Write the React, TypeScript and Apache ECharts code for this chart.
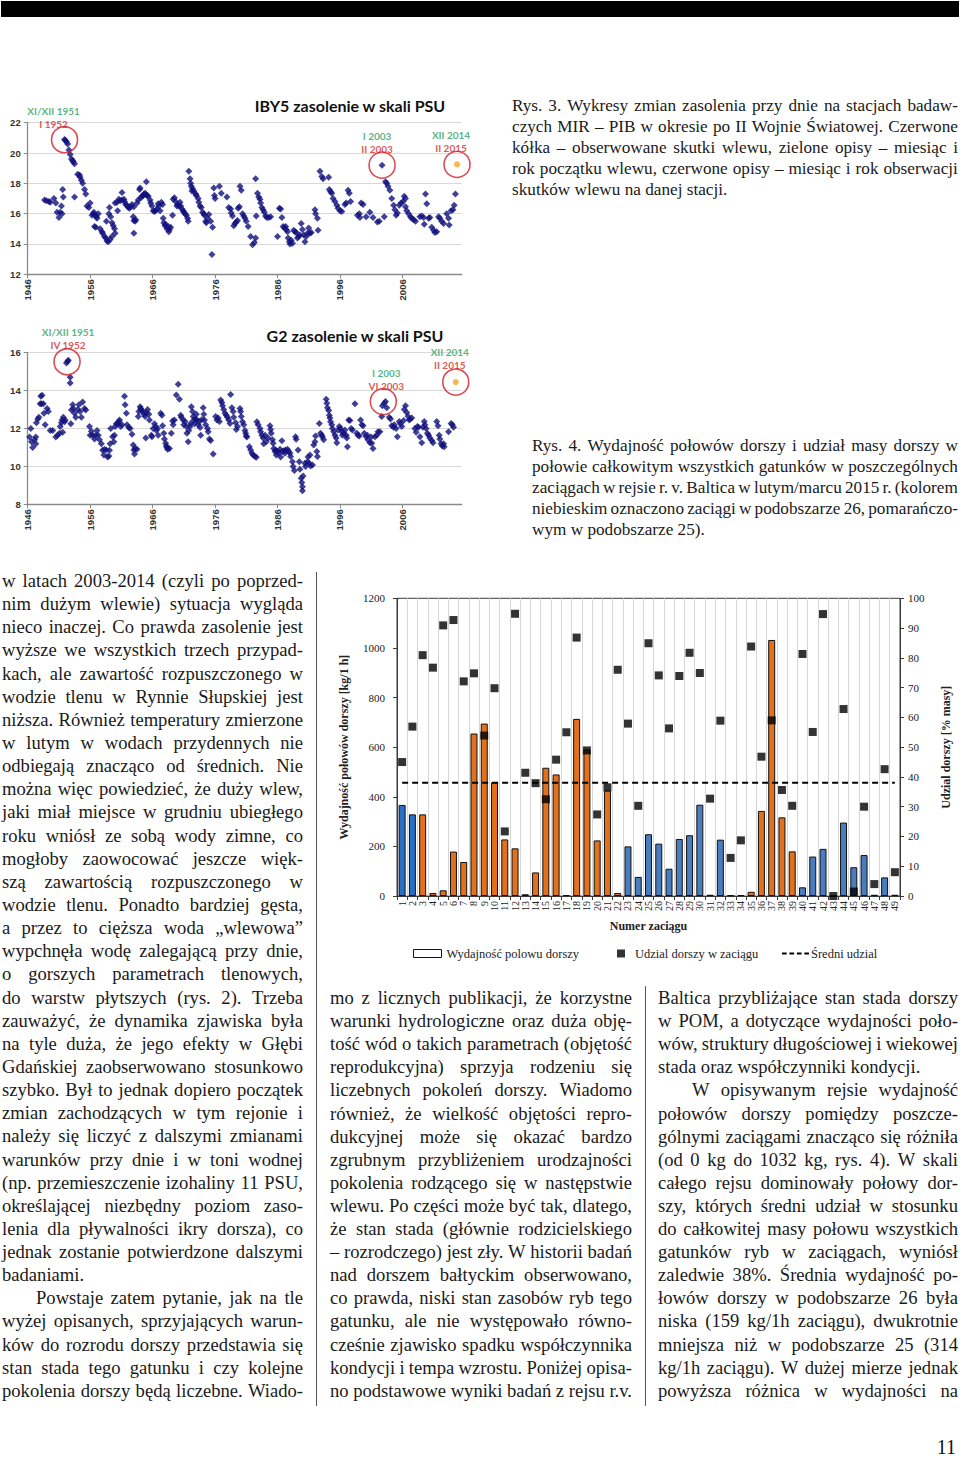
import React, { useEffect, useRef } from "react";
import * as echarts from "echarts";

// ---------------- DATA ----------------
const YEAR0 = 1946;
const YEAR_TICK_LABELS = ["1946", "1956", "1966", "1976", "1986", "1996", "2006"];

// IBY5 near-bottom salinity [year, PSU]
const IBY5_POINTS: [number, number][] = [
  [1948.7,16.9],[1949.0,16.85],[1949.4,16.8],[1949.6,16.75],[1950.2,17.0],[1950.5,16.7],[1950.7,16.1],[1951.0,15.75],[1951.2,16.1],[1951.4,16.5],[1951.5,16.0],[1951.6,17.6],[1951.7,17.1],
  [1951.9,20.9],[1952.0,20.85],[1952.2,20.75],[1952.4,20.6],[1952.6,20.2],[1952.8,19.9],[1953.0,19.6],[1953.2,19.5],[1953.3,19.4],[1953.5,19.3],[1953.5,17.1],
  [1954.0,18.6],[1954.3,18.55],[1954.4,18.4],[1954.6,18.2],[1954.8,18.0],[1955.1,17.6],[1955.3,17.3],[1955.5,16.5],[1955.8,16.4],[1956.0,16.7],[1956.3,15.9],[1956.5,16.0],[1956.6,16.1],[1956.8,15.9],[1957.0,15.8],[1957.1,15.7],[1957.3,16.0],[1956.9,15.1],[1956.7,15.15],
  [1957.6,15.0],[1957.9,14.8],[1958.0,14.7],[1958.3,14.5],[1958.5,14.4],[1958.7,14.2],[1958.9,14.15],[1959.2,14.3],[1959.5,14.5],[1958.6,15.5],[1959.0,16.0],[1959.1,16.4],[1959.3,15.8],[1959.5,15.4],[1959.7,15.2],[1959.9,15.0],[1960.0,14.7],
  [1960.0,16.7],[1960.3,16.75],[1960.6,16.95],[1960.8,16.85],[1961.1,16.9],[1961.4,16.95],[1961.5,16.8],[1961.7,16.6],[1961.9,16.55],[1962.1,16.4],[1962.3,16.35],[1962.5,16.45],[1962.7,16.6],[1963.0,16.45],[1961.1,17.4],[1960.4,16.2],
  [1962.9,15.8],[1963.0,15.55],[1963.2,15.5],[1963.3,15.6],[1963.0,14.7],
  [1963.5,16.7],[1963.7,16.9],[1963.9,17.6],[1964.0,17.7],[1964.1,17.05],[1964.3,17.15],[1964.5,17.2],[1964.6,17.3],[1964.8,17.35],[1965.0,17.25],[1965.1,17.2],[1965.0,18.1],[1965.3,17.15],[1965.6,16.9],[1965.7,16.7],[1965.9,16.5],[1966.1,16.2],[1966.3,16.15],[1966.5,16.2],[1966.7,16.3],[1966.9,16.65],[1967.0,16.5],[1967.2,16.2],[1967.4,16.75],[1967.6,16.6],[1967.7,15.7],[1967.8,15.4],[1968.0,15.2],[1968.1,15.3],[1968.3,15.0],[1968.5,15.15],[1968.6,14.8],[1968.7,14.95],[1968.9,15.1],[1969.2,15.9],[1969.3,16.95],[1969.5,17.05],[1969.7,16.8],[1969.9,16.5],[1970.0,16.6],[1970.2,16.5],[1970.4,16.75],[1970.5,16.5],[1970.7,16.3],[1970.9,16.2],[1971.0,16.1],[1971.2,16.0],[1971.4,15.9],[1971.6,15.7],[1971.7,15.5],
  [1971.8,18.8],[1972.0,18.3],[1972.1,18.0],[1972.2,17.8],[1972.4,17.65],[1972.3,17.5],[1972.6,17.5],[1972.9,17.3],[1973.0,17.2],[1973.3,17.0],[1973.4,16.75],[1973.6,16.5],[1973.8,16.4],[1974.0,16.1],[1974.2,16.0],[1974.3,15.9],[1974.5,15.5],[1974.6,15.4],[1974.8,15.7],[1975.0,15.95],[1975.3,15.5],
  [1975.6,15.1],[1975.5,13.3],[1975.8,17.7],[1975.9,17.2],[1976.0,17.0],[1976.7,17.8],[1977.0,17.35],
  [1977.9,17.1],[1978.2,16.4],[1978.5,16.3],[1978.6,16.05],[1978.8,15.85],[1979.0,15.2],[1979.2,15.35],[1979.4,15.45],[1979.6,15.55],[1979.7,16.35],[1979.9,16.45],[1980.0,17.8],[1980.2,17.55],[1980.4,16.0],[1980.6,15.85],[1980.8,15.7],[1981.0,15.5],[1981.3,15.15],
  [1981.7,14.5],[1982.0,13.95],[1982.3,14.1],[1982.5,14.4],[1982.5,18.3],[1982.6,15.85],[1982.8,17.35],[1983.0,17.1],[1983.2,16.95],[1983.3,16.7],[1983.5,16.4],[1983.7,16.25],[1983.9,16.1],[1984.1,15.85],[1984.3,15.75],[1984.6,15.75],[1984.9,15.8],
  [1986.0,14.5],[1986.3,16.35],[1986.5,16.3],[1986.7,15.75],[1986.9,15.15],[1987.1,15.05],[1987.3,15.15],[1987.4,14.95],[1987.6,14.8],[1987.7,14.4],[1987.9,14.15],[1988.0,14.0],[1988.2,14.25],[1988.4,14.05],[1988.6,14.9],[1988.8,14.8],[1989.0,14.75],[1989.2,14.4],[1989.4,14.5],[1989.6,14.6],[1989.8,15.35],[1990.0,14.95],[1990.2,14.6],[1990.4,14.15],[1990.6,14.5],[1990.8,14.7],[1991.0,15.05],[1991.2,14.7],[1991.4,14.75],
  [1992.0,16.25],[1992.1,16.0],[1992.4,15.7],[1992.5,14.9],
  [1992.8,18.8],[1993.1,18.45],[1993.3,18.3],[1994.2,18.4],[1994.3,17.6],[1994.5,17.45],[1994.7,17.35],[1994.9,17.0],[1995.2,16.8],[1995.5,16.55],[1995.7,16.35],[1996.0,16.2],[1996.3,16.15],
  [1996.8,16.6],[1997.0,16.7],[1997.3,17.55],[1997.5,17.35],[1997.7,16.8],
  [1998.8,15.9],[1999.1,16.0],[1999.2,15.75],[1999.4,16.7],[1999.7,16.6],[2000.2,15.8],[2000.8,16.1],[2001.3,15.75],[2002.0,15.45],[2002.3,15.5],[2003.1,15.8],
  [2002.75,19.2],
  [2003.3,18.1],[2003.5,18.0],[2003.7,17.8],[2004.0,17.55],[2004.3,17.0],[2004.6,16.55],[2004.8,16.25],[2005.0,15.9],[2005.2,16.05],[2005.5,16.55],[2005.8,16.7],[2006.1,16.8],[2006.3,17.15],[2006.5,17.0],[2006.5,16.45],[2006.7,16.2],[2007.0,16.0],[2007.3,15.8],[2007.5,15.7],[2007.8,15.6],[2008.1,15.5],[2008.8,15.8],[2009.1,15.85],[2009.4,15.75],[2009.5,15.3],[2009.7,17.3],[2009.9,16.65],[2010.2,15.7],[2010.4,15.75],[2010.7,15.1],[2011.0,14.9],[2011.2,14.75],[2011.5,14.8],[2011.8,15.8],[2012.0,15.7],[2012.3,15.5],[2012.6,15.35],[2013.1,16.0],[2013.4,15.7],[2013.5,15.25],[2013.8,16.2],[2014.1,16.25],[2014.3,16.55],[2014.5,17.3],
];
const IBY5_LATEST: [number, number][] = [[2014.75, 19.25]];
const IBY5_INFLOWS = [
  { at: [1951.9, 20.88], start: "XI/XII 1951", seen: "I 1952" },
  { at: [2002.75, 19.2], start: "I 2003", seen: "II 2003" },
  { at: [2014.75, 19.25], start: "XII 2014", seen: "II 2015" },
];

// G2 near-bottom salinity [year, PSU]
const G2_POINTS: [number, number][] = [
  [1946.3,11.55],[1946.5,12.0],[1946.6,11.3],[1946.8,11.0],[1947.1,11.4],[1947.3,11.55],[1947.3,11.2],
  [1947.4,12.3],[1947.6,12.5],[1947.8,12.6],[1948.0,13.3],[1948.1,13.7],[1948.3,13.75],[1948.2,13.3],[1948.5,13.3],[1948.6,12.8],[1948.8,12.2],[1949.1,13.05],[1949.3,12.9],
  [1949.6,11.9],[1950.0,11.9],
  [1950.5,11.55],[1950.8,11.65],[1951.1,11.75],[1951.2,12.1],[1951.4,12.3],[1951.5,12.45],[1951.7,12.6],[1951.6,11.8],[1951.9,12.35],[1952.0,12.45],
  [1952.2,15.45],[1952.4,15.55],[1952.5,15.6],
  [1952.8,14.7],[1952.8,14.4],[1952.9,12.25],[1953.0,12.97],[1953.2,13.25],[1953.3,13.05],[1953.5,12.8],[1953.7,12.6],[1954.0,13.0],[1954.2,13.25],[1954.4,12.9],[1954.6,12.6],[1954.8,13.4],[1955.1,13.05],[1955.3,12.97],
  [1955.9,12.1],[1956.0,11.65],[1956.2,11.85],[1956.4,11.65],[1956.7,11.45],[1956.9,11.65],[1957.1,11.9],[1957.3,11.65],[1957.5,11.4],
  [1957.8,11.2],[1958.0,10.85],[1958.2,10.6],[1958.3,10.9],[1958.6,10.87],[1958.8,10.5],[1959.0,10.55],[1959.1,10.85],[1959.2,11.2],[1959.3,12.0],[1959.6,11.57],[1959.8,11.3],[1959.9,11.65],[1960.0,12.1],[1960.2,12.25],[1960.4,12.27],[1960.6,12.35],[1960.7,12.45],[1960.9,12.1],[1961.1,12.2],
  [1961.5,13.7],[1961.6,13.25],[1961.8,12.8],[1961.9,12.2],[1962.2,12.05],[1962.4,12.0],[1962.7,11.7],[1962.9,11.13],[1963.0,10.87],[1963.1,10.66],[1963.2,10.95],[1963.5,10.9],
  [1963.7,12.63],[1963.8,12.9],[1964.0,13.15],[1964.1,13.05],[1964.2,12.97],[1964.4,12.9],[1964.6,12.75],[1964.8,12.63],[1964.9,11.5],[1965.0,12.85],[1965.2,13.0],[1965.4,12.75],[1965.5,12.45],[1965.8,11.65],[1965.9,11.57],[1966.1,12.0],[1966.3,12.25],[1966.5,12.1],[1966.6,11.9],[1966.8,12.0],[1966.9,11.65],
  [1967.3,12.8],[1967.5,12.7],[1967.6,12.15],[1967.8,11.75],[1967.9,11.45],[1968.1,11.22],[1968.2,11.07],[1968.3,11.0],[1968.4,10.9],[1968.7,10.95],[1969.0,11.75],[1969.2,12.4],[1969.3,12.2],[1969.5,12.45],
  [1969.8,13.77],[1970.1,14.33],[1970.3,13.55],[1970.5,12.7],[1970.6,12.6],[1970.9,12.45],[1971.0,12.2],[1971.2,12.37],[1971.4,12.1],[1971.5,11.75],[1971.7,11.3],[1971.8,11.9],[1972.0,12.1],[1972.1,12.27],[1972.2,13.15],[1972.4,12.9],[1972.5,12.63],[1972.6,12.45],[1972.7,12.25],[1972.9,12.5],[1973.0,12.75],[1973.1,12.45],[1973.3,12.2],[1973.5,12.37],[1973.6,12.05],[1973.7,11.65],[1973.9,12.47],[1974.1,13.1],[1974.2,12.75],[1974.3,12.45],[1974.5,12.2],[1974.8,12.0],[1974.9,11.83],[1975.1,11.45],[1975.3,11.37],[1975.7,10.65],
  [1976.1,12.63],[1976.3,12.45],[1976.5,12.55],[1976.7,12.37],[1976.9,13.5],[1977.1,13.37],[1977.2,13.2],[1977.4,13.0],[1977.6,12.8],[1977.8,12.7],[1978.0,12.6],[1978.2,12.45],[1978.4,12.27],[1978.5,13.8],[1978.7,13.1],[1978.9,12.9],[1979.0,12.6],[1979.3,12.3],[1979.4,11.95],[1979.6,12.1],
  [1980.0,13.05],[1980.1,12.9],[1980.2,12.63],[1980.4,12.35],[1980.6,12.2],[1980.8,11.9],[1980.9,11.75],[1981.0,11.6],[1981.1,11.55],
  [1981.5,11.04],[1981.7,10.87],[1981.9,10.69],[1982.1,10.6],[1982.4,10.52],[1982.6,10.48],
  [1982.7,12.35],[1982.9,12.2],[1983.2,12.0],[1983.3,11.83],[1983.5,11.65],[1983.7,11.5],[1983.8,11.2],[1984.0,11.65],[1984.2,11.3],[1984.5,11.5],[1984.8,12.15],[1984.9,11.95],[1985.0,11.75],[1985.2,11.4],[1985.3,11.22],[1985.4,10.95],
  [1985.6,10.78],[1985.7,10.87],[1985.8,10.6],[1986.0,10.78],[1986.2,10.69],[1986.4,10.9],[1986.5,10.5],[1986.7,11.35],[1986.8,10.78],[1987.0,10.83],[1987.2,10.7],[1987.3,10.87],[1987.6,10.9],[1987.8,10.78],[1988.0,10.7],[1988.1,10.52],[1988.4,10.25],[1988.5,10.0],[1988.7,9.78],[1988.9,11.57],[1989.0,11.43],[1989.3,10.87],[1989.5,10.25],[1989.6,9.85],[1989.8,9.37],[1989.9,9.15],[1990.0,8.93],[1990.0,8.72],[1990.1,9.5],[1990.4,10.16],[1990.5,10.0],[1990.8,10.25],[1990.9,10.5],[1991.1,10.16],[1991.2,10.6],[1991.3,10.02],[1991.6,10.08],[1991.8,11.13],[1992.0,11.3],[1992.1,11.6],[1992.3,10.78],[1992.4,10.52],
  [1992.7,12.27],[1992.9,11.75],[1993.1,11.65],[1993.2,11.55],[1993.4,11.4],
  [1993.8,13.55],[1993.9,13.33],[1994.0,13.1],[1994.2,12.95],[1994.3,12.7],[1994.4,12.55],[1994.5,12.35],[1994.7,12.2],[1994.8,12.0],[1995.0,11.83],[1995.2,11.65],[1995.4,11.5],[1995.5,11.25],[1995.7,11.92],[1995.9,12.1],[1996.1,12.0],[1996.3,11.83],[1996.4,11.65],[1996.6,11.75],[1996.8,11.92],[1997.0,11.65],[1997.1,11.5],[1997.2,11.04],[1997.4,12.45],[1997.6,12.42],[1997.8,12.0],[1998.0,11.92],
  [1998.4,13.3],[1998.7,11.75],[1998.9,11.65],[1999.1,11.6],[1999.3,12.45],[1999.5,12.2],[1999.7,12.15],[1999.9,11.75],[2000.2,11.57],[2000.4,11.65],[2000.5,11.4],[2000.8,11.25],[2001.0,11.55],[2001.1,11.22],[2001.3,10.95],[2001.6,11.57],[2001.9,11.65],[2002.1,11.83],[2002.4,11.83],
  [2002.7,12.63],[2002.8,13.2],[2003.1,13.33],[2003.3,13.42],[2003.5,13.1],
  [2003.9,12.6],[2004.1,12.5],[2004.3,12.15],[2004.6,12.07],[2004.7,12.2],[2005.0,12.0],[2005.2,11.57],[2005.5,12.37],[2005.7,12.25],[2005.9,12.1],[2006.2,12.42],[2006.3,13.0],[2006.5,13.2],[2006.7,12.85],[2006.9,12.65],[2007.1,12.45],[2007.2,12.5],[2007.5,12.55],
  [2008.0,12.0],[2008.2,11.8],[2008.4,12.1],[2008.6,12.07],[2008.8,11.57],[2009.1,11.25],[2009.3,12.07],[2009.5,12.37],[2009.6,12.2],[2009.8,12.0],[2010.0,11.75],[2010.2,11.65],[2010.4,11.5],[2010.7,11.37],[2010.9,11.25],
  [2011.5,12.37],[2011.7,12.15],[2011.9,11.65],[2012.0,11.45],[2012.2,11.2],[2012.4,11.07],[2012.6,11.2],[2012.7,11.04],
  [2013.4,11.83],[2013.8,12.27],[2014.0,12.2],[2014.2,12.07],
];
const G2_LATEST: [number, number][] = [[2014.55, 14.45]];
const G2_INFLOWS = [
  { at: [1952.3, 15.52], start: "XI/XII 1951", seen: "IV 1952" },
  { at: [2002.95, 13.42], start: "I 2003", seen: "VI 2003" },
  { at: [2014.55, 14.45], start: "XII 2014", seen: "II 2015" },
];

// Rys. 4: hauls of r.v. Baltica, Feb/Mar 2015
const HAULS = Array.from({ length: 49 }, (_, i) => String(i + 1));
const CATCH_KG_H = [367,329,329,12,23,179,137,655,695,458,228,192,7,95,517,490,4,714,590,224,425,12,200,77,249,211,110,230,245,368,5,227,3,4,17,343,1032,317,180,35,159,190,0,296,116,165,5,75,5];
const COD_SHARE_PCT = [45.0,56.9,80.9,76.7,90.9,92.7,72.1,74.8,53.9,69.8,21.7,94.8,41.4,37.9,32.5,45.8,55.0,86.8,48.9,27.4,36.5,76.0,57.9,30.3,84.9,74.1,56.3,73.9,81.7,74.9,32.7,58.9,12.8,18.7,83.8,46.8,59.0,35.6,30.3,81.3,55.1,94.7,0,62.8,1.5,30.0,4.0,42.6,8.0];
const SUBAREA = [26,26,25,25,25,25,25,25,25,25,25,25,25,25,25,25,25,25,25,25,25,25,26,26,26,26,26,26,26,26,26,26,26,26,25,25,25,25,25,26,26,26,26,26,26,26,26,26,26];
const MEAN_SHARE_PCT = 38;

// ---------------- TEXT ----------------
const CAPTION3 = [
  "Rys. 3. Wykresy zmian zasolenia przy dnie na stacjach badaw-",
  "czych MIR – PIB w okresie po II Wojnie Światowej. Czerwone",
  "kółka – obserwowane skutki wlewu, zielone opisy – miesiąc i",
  "rok początku wlewu, czerwone opisy – miesiąc i rok obserwacji",
  "skutków wlewu na danej stacji.",
];
const CAPTION4 = [
  "Rys. 4. Wydajność połowów dorszy i udział masy dorszy w",
  "połowie całkowitym wszystkich gatunków w poszczególnych",
  "zaciągach w rejsie r. v. Baltica w lutym/marcu 2015 r. (kolorem",
  "niebieskim oznaczono zaciągi w podobszarze 26, pomarańczo-",
  "wym w podobszarze 25).",
];
const COL_LEFT = [
  "w latach 2003-2014 (czyli po poprzed-",
  "nim dużym wlewie) sytuacja wygląda",
  "nieco inaczej. Co prawda zasolenie jest",
  "wyższe we wszystkich trzech przypad-",
  "kach, ale zawartość rozpuszczonego w",
  "wodzie tlenu w Rynnie Słupskiej jest",
  "niższa. Również temperatury zmierzone",
  "w lutym w wodach przydennych nie",
  "odbiegają znacząco od średnich. Nie",
  "można więc powiedzieć, że duży wlew,",
  "jaki miał miejsce w grudniu ubiegłego",
  "roku wniósł ze sobą wody zimne, co",
  "mogłoby zaowocować jeszcze więk-",
  "szą zawartością rozpuszczonego w",
  "wodzie tlenu. Ponadto bardziej gęsta,",
  "a przez to cięższa woda „wlewowa”",
  "wypchnęła wodę zalegającą przy dnie,",
  "o gorszych parametrach tlenowych,",
  "do warstw płytszych (rys. 2). Trzeba",
  "zauważyć, że dynamika zjawiska była",
  "na tyle duża, że jego efekty w Głębi",
  "Gdańskiej zaobserwowano stosunkowo",
  "szybko. Był to jednak dopiero początek",
  "zmian zachodzących w tym rejonie i",
  "należy się liczyć z dalszymi zmianami",
  "warunków przy dnie i w toni wodnej",
  "(np. przemieszczenie izohaliny 11 PSU,",
  "określającej niezbędny poziom zaso-",
  "lenia dla pływalności ikry dorsza), co",
  "jednak zostanie potwierdzone dalszymi",
  "badaniami.",
  "Powstaje zatem pytanie, jak na tle",
  "wyżej opisanych, sprzyjających warun-",
  "ków do rozrodu dorszy przedstawia się",
  "stan stada tego gatunku i czy kolejne",
  "pokolenia dorszy będą liczebne. Wiado-",
];
const COL_MID = [
  "mo z licznych publikacji, że korzystne",
  "warunki hydrologiczne oraz duża obję-",
  "tość wód o takich parametrach (objętość",
  "reprodukcyjna) sprzyja rodzeniu się",
  "liczebnych pokoleń dorszy. Wiadomo",
  "również, że wielkość objętości repro-",
  "dukcyjnej może się okazać bardzo",
  "zgrubnym przybliżeniem urodzajności",
  "pokolenia rodzącego się w następstwie",
  "wlewu. Po części może być tak, dlatego,",
  "że stan stada (głównie rodzicielskiego",
  "– rozrodczego) jest zły. W historii badań",
  "nad dorszem bałtyckim obserwowano,",
  "co prawda, niski stan zasobów ryb tego",
  "gatunku, ale nie występowało równo-",
  "cześnie zjawisko spadku współczynnika",
  "kondycji i tempa wzrostu. Poniżej opisa-",
  "no podstawowe wyniki badań z rejsu r.v.",
];
const COL_RIGHT = [
  "Baltica przybliżające stan stada dorszy",
  "w POM, a dotyczące wydajności poło-",
  "wów, struktury długościowej i wiekowej",
  "stada oraz współczynniki kondycji.",
  "W opisywanym rejsie wydajność",
  "połowów dorszy pomiędzy poszcze-",
  "gólnymi zaciągami znacząco się różniła",
  "(od 0 kg do 1032 kg, rys. 4). W skali",
  "całego rejsu dominowały połowy dor-",
  "szy, których średni udział w stosunku",
  "do całkowitej masy połowu wszystkich",
  "gatunków ryb w zaciągach, wyniósł",
  "zaledwie 38%. Średnia wydajność po-",
  "łowów dorszy w podobszarze 26 była",
  "niska (159 kg/1h zaciągu), dwukrotnie",
  "mniejsza niż w podobszarze 25 (314",
  "kg/1h zaciągu). W dużej mierze jednak",
  "powyższa różnica w wydajności na",
];
const PAGE_NUMBER = "11";

// ---------------- OPTIONS ----------------
const SANS = "Liberation Sans";
const CAL = "Lato";
const SERIF = "Liberation Serif";

function salinityOption(
  title: string,
  titleX: number,
  points: [number, number][],
  latest: [number, number][],
  inflows: { at: number[]; start: string; seen: string }[],
  yMin: number,
  yMax: number,
  labelOffsets: number[][]
) {
  const axisColor = "#8a8a8a";
  return {
    animation: false,
    grid: { left: 27.7, right: 38.3, top: 32.7, bottom: 35.7 },
    xAxis: {
      type: "value",
      min: 0,
      max: 69.5,
      interval: 10,
      axisLine: { show: true, lineStyle: { color: axisColor, width: 1.3 } },
      axisTick: { show: true, length: 4, lineStyle: { color: axisColor } },
      splitLine: { show: false },
      axisLabel: {
        rotate: 90,
        margin: 5,
        showMaxLabel: false,
        formatter: (v: number) => YEAR_TICK_LABELS[Math.round(v / 10)] ?? "",
        fontFamily: SANS,
        fontWeight: "bold",
        fontSize: 9.5,
        color: "#333",
      },
    },
    yAxis: {
      type: "value",
      min: yMin,
      max: yMax,
      interval: 2,
      axisLine: { show: true, lineStyle: { color: axisColor, width: 1.3 } },
      axisTick: { show: true, length: 4, lineStyle: { color: axisColor } },
      splitLine: { show: true, lineStyle: { color: "#d9d9d9", width: 1 } },
      axisLabel: { margin: 7, fontFamily: SANS, fontWeight: "bold", fontSize: 9.5, color: "#333" },
    },
    graphic: [
      {
        type: "text",
        x: titleX,
        y: 15,
        style: {
          text: title,
          font: `bold 16px ${CAL}`,
          fill: "#111",
          textAlign: "center",
          textVerticalAlign: "middle",
        },
      },
    ],
    series: [
      {
        type: "scatter",
        symbol: "diamond",
        symbolSize: 7,
        itemStyle: { color: "#10107c" },
        data: points.map(([y, v]) => [y - YEAR0, v]),
      },
      {
        type: "scatter",
        symbol: "circle",
        symbolSize: 6,
        itemStyle: { color: "#f5a623" },
        data: latest.map(([y, v]) => [y - YEAR0, v]),
      },
      {
        type: "scatter",
        symbol: "circle",
        symbolSize: 26,
        z: 5,
        itemStyle: { color: "rgba(0,0,0,0)", borderColor: "#d11f2b", borderWidth: 1.6 },
        label: {
          show: true,
          position: "top",
          distance: 0,
          rich: {
            g: { color: "#2e9f5e", fontFamily: CAL, fontWeight: "bold", fontSize: 10, lineHeight: 13 },
            r: { color: "#d42a2a", fontFamily: CAL, fontWeight: "bold", fontSize: 10, lineHeight: 13 },
          },
        },
        data: inflows.map((f, i) => ({
          value: [f.at[0] - YEAR0, f.at[1]],
          label: { formatter: `{g|${f.start}}\n{r|${f.seen}}`, offset: labelOffsets[i] },
        })),
      },
    ],
  };
}

const DASH_ICON = "path://M0,0H5V2H0Z M8,0H13V2H8Z M16,0H21V2H16Z M24,0H29V2H24Z";

function catchOption() {
  const blue26 = "#4a7dbd";
  const orange25 = "#e2711d";
  const axis = "#3a3a3a";
  const txt = { fontFamily: SERIF, color: "#222" };
  return {
    animation: false,
    grid: { left: 61, right: 46, top: 13.3, bottom: 74, show: true, borderColor: axis, borderWidth: 1, backgroundColor: "transparent" },
    xAxis: {
      type: "category",
      data: HAULS,
      boundaryGap: true,
      axisLine: { show: true, lineStyle: { color: axis } },
      axisTick: { show: true, length: 4, interval: 0, lineStyle: { color: axis } },
      splitLine: { show: true, interval: 0, lineStyle: { color: "#d6d6d6", width: 1 } },
      axisLabel: { rotate: 90, interval: 0, margin: 5, fontSize: 10, ...txt },
      name: "Numer zaciągu",
      nameLocation: "middle",
      nameGap: 24,
      nameTextStyle: { fontSize: 12, fontWeight: "bold", ...txt },
    },
    yAxis: [
      {
        type: "value",
        min: 0,
        max: 1200,
        interval: 200,
        position: "left",
        splitLine: { show: false },
        axisLine: { show: true, lineStyle: { color: axis } },
        axisTick: { show: true, length: 4, lineStyle: { color: axis } },
        axisLabel: { margin: 12, fontSize: 11, formatter: (v: number) => String(v), ...txt },
        name: "Wydajność połowów dorszy [kg/1 h]",
        nameLocation: "middle",
        nameRotate: 90,
        nameGap: 47,
        nameTextStyle: { fontSize: 12, fontWeight: "bold", ...txt },
      },
      {
        type: "value",
        min: 0,
        max: 100,
        interval: 10,
        position: "right",
        splitLine: { show: false },
        axisLine: { show: true, lineStyle: { color: axis } },
        axisTick: { show: true, length: 4, lineStyle: { color: axis } },
        axisLabel: { margin: 8, fontSize: 11, formatter: (v: number) => String(v), ...txt },
        name: "Udzial dorszy [% masy]",
        nameLocation: "middle",
        nameRotate: 90,
        nameGap: 40,
        nameTextStyle: { fontSize: 12, fontWeight: "bold", ...txt },
      },
    ],
    legend: [
      {
        data: ["Wydajność polowu dorszy"],
        left: 78,
        top: 357,
        icon: "rect",
        itemWidth: 28,
        itemHeight: 8,
        symbolKeepAspect: false,
        itemStyle: { color: "#fff", borderColor: "#111", borderWidth: 1 },
        textStyle: { fontSize: 12.5, ...txt },
      },
      {
        data: ["Udzial dorszy w zaciągu"],
        left: 282,
        top: 357,
        icon: "rect",
        itemWidth: 8,
        itemHeight: 8,
        textStyle: { fontSize: 12.5, padding: [0, 0, 0, 5], ...txt },
      },
      {
        data: ["Średni udzial"],
        left: 447,
        top: 357,
        icon: DASH_ICON,
        itemWidth: 27,
        itemHeight: 2,
        symbolKeepAspect: false,
        itemStyle: { color: "#000" },
        textStyle: { fontSize: 12.5, padding: [0, 0, 0, -3], ...txt },
      },
    ],
    series: [
      {
        name: "Wydajność polowu dorszy",
        type: "bar",
        barWidth: "68%",
        itemStyle: { color: "#fff", borderColor: "#111", borderWidth: 1 },
        data: CATCH_KG_H.map((v, i) => ({
          value: v,
          itemStyle: { color: SUBAREA[i] === 25 ? orange25 : i < 2 ? "#2a6fc6" : blue26, borderColor: "#111", borderWidth: 1 },
        })),
      },
      {
        name: "Udzial dorszy w zaciągu",
        type: "scatter",
        yAxisIndex: 1,
        symbol: "rect",
        symbolSize: 8,
        z: 4,
        itemStyle: { color: "#000" },
        data: COD_SHARE_PCT,
      },
      {
        name: "Średni udzial",
        type: "line",
        yAxisIndex: 1,
        symbol: "none",
        z: 3,
        lineStyle: { type: [6, 4], width: 2, color: "#000" },
        itemStyle: { color: "#000" },
        data: HAULS.map(() => MEAN_SHARE_PCT),
      },
    ],
  };
}

// ---------------- COMPONENTS ----------------
function EChart({ option, style }: { option: any; style: React.CSSProperties }) {
  const ref = useRef<HTMLDivElement>(null);
  useEffect(() => {
    if (!ref.current) return;
    const chart = echarts.init(ref.current, undefined, { renderer: "svg" });
    chart.setOption(option);
    return () => chart.dispose();
  }, [option]);
  return <div ref={ref} style={{ position: "absolute", ...style }} />;
}

function TextBlock({
  lines, left, top, width, lh, fs, ragged, indented,
}: {
  lines: string[]; left: number; top: number; width: number; lh: number; fs: number; ragged: number[]; indented: number[];
}) {
  return (
    <>
      {lines.map((t, i) => {
        const ind = indented.includes(i) ? 34 : 0;
        const last = ragged.includes(i);
        const base: React.CSSProperties = {
          position: "absolute",
          left: left + ind,
          top: top + i * lh,
          width: width - ind,
          height: lh,
          lineHeight: `${lh}px`,
          fontSize: fs,
          color: "#1a1a1a",
          whiteSpace: "nowrap",
        };
        if (last) return <div key={i} style={base}>{t}</div>;
        const words = t.split(" ");
        return (
          <div key={i} style={{ ...base, display: "flex", justifyContent: "space-between" }}>
            {words.map((w, j) => (
              <span key={j}>{w}</span>
            ))}
          </div>
        );
      })}
    </>
  );
}

const OPT_IBY5 = salinityOption("IBY5 zasolenie w skali PSU", 350, IBY5_POINTS, IBY5_LATEST, IBY5_INFLOWS, 12, 22, [[-11, 5], [-5, 4], [-6, 4]]);
const OPT_G2 = salinityOption("G2 zasolenie w skali PSU", 355, G2_POINTS, G2_LATEST, G2_INFLOWS, 8, 16, [[1, 4], [3, 5], [-6, 3]]);
const OPT_CATCH = catchOption();

export default function App() {
  return (
    <div style={{ position: "absolute", left: 0, top: 0, width: 960, height: 1460, background: "#fff", fontFamily: SERIF, overflow: "hidden" }}>
      <div style={{ position: "absolute", left: 1, top: 1, width: 958, height: 16, background: "#000" }} />
      <EChart option={OPT_IBY5} style={{ left: 0, top: 90, width: 500, height: 220 }} />
      <EChart option={OPT_G2} style={{ left: 0, top: 320, width: 500, height: 220 }} />
      <EChart option={OPT_CATCH} style={{ left: 330, top: 585, width: 630, height: 385 }} />
      <TextBlock lines={CAPTION3} left={512} top={95} width={446} lh={21} fs={17.2} ragged={[4]} indented={[]} />
      <TextBlock lines={CAPTION4} left={532} top={435} width={426} lh={21} fs={17.2} ragged={[4]} indented={[]} />
      <TextBlock lines={COL_LEFT} left={2} top={569} width={301} lh={23.14} fs={18.6} ragged={[30]} indented={[31]} />
      <TextBlock lines={COL_MID} left={330} top={986} width={302} lh={23.1} fs={18.6} ragged={[]} indented={[]} />
      <TextBlock lines={COL_RIGHT} left={658} top={986} width={300} lh={23.1} fs={18.6} ragged={[3]} indented={[4]} />
      <div style={{ position: "absolute", left: 316, top: 572, width: 1, height: 834, background: "#555" }} />
      <div style={{ position: "absolute", left: 645, top: 986, width: 1, height: 420, background: "#555" }} />
      <div style={{ position: "absolute", left: 926, top: 1436, width: 30, height: 23, textAlign: "right", fontSize: 20, lineHeight: "23px", color: "#111" }}>{PAGE_NUMBER}</div>
    </div>
  );
}
